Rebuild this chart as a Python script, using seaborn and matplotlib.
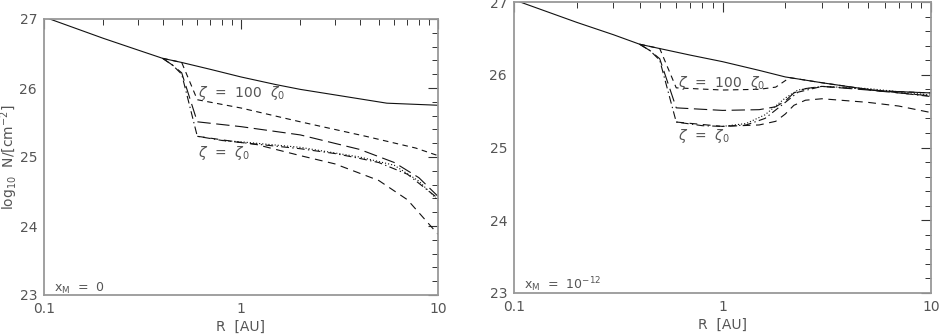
import numpy as np
import pandas as pd
import matplotlib
matplotlib.use("Agg")
import matplotlib.pyplot as plt
import seaborn as sns
from matplotlib.ticker import FixedLocator, MultipleLocator, NullFormatter

sns.set_style("white")
plt.rcParams['font.family'] = ['DejaVu Sans']
plt.rcParams['mathtext.fontset'] = 'dejavusans'

# ---------------- data (R in AU, log10 N in cm^-2) ----------------
R_solid = [0.1, 0.2, 0.3, 0.4, 0.5, 0.7, 1.0, 1.5, 2.0, 3.0, 5.5, 10.0]
N_solid_left = [27.03, 26.72, 26.55, 26.43, 26.37, 26.27, 26.16, 26.05, 25.98, 25.90, 25.78, 25.75]
N_solid_right = [27.03, 26.72, 26.55, 26.42, 26.36, 26.27, 26.18, 26.06, 25.97, 25.89, 25.78, 25.75]

# left panel (x_M = 0)
R_z100_L = [0.4, 0.5, 0.6, 1.0, 2.0, 4.3, 7.7, 10.0]
N_z100_L = [26.43, 26.37, 25.83, 25.71, 25.51, 25.30, 25.13, 25.02]

R_long_L = [0.4, 0.45, 0.5, 0.6, 1.0, 2.0, 4.0, 6.0, 8.0, 10.0]
N_long_L = [26.43, 26.33, 26.22, 25.51, 25.44, 25.32, 25.11, 24.92, 24.70, 24.43]

R_dd_L = [0.4, 0.45, 0.5, 0.6, 0.8, 1.0, 2.0, 3.0, 4.0, 5.0, 7.0, 10.0]
N_dd_L = [26.43, 26.33, 26.20, 25.30, 25.24, 25.21, 25.12, 25.05, 24.98, 24.92, 24.75, 24.40]

R_dot_L = [0.8, 1.0, 2.0, 4.0, 6.0, 8.0, 10.0]
N_dot_L = [25.24, 25.22, 25.14, 25.00, 24.88, 24.65, 24.37]

R_low_L = [0.6, 1.0, 1.2, 2.0, 3.0, 5.0, 7.0, 10.0]
N_low_L = [25.30, 25.21, 25.18, 25.02, 24.90, 24.66, 24.38, 23.88]

# right panel (x_M = 1e-12)
R_z100_R = [0.4, 0.5, 0.6, 1.0, 1.5, 1.8, 2.1, 3.0, 5.5, 10.0]
N_z100_R = [26.42, 26.36, 25.82, 25.79, 25.80, 25.83, 25.96, 25.89, 25.78, 25.75]

R_long_R = [0.4, 0.45, 0.5, 0.6, 1.0, 1.5, 1.8, 2.0, 2.2, 2.5, 3.0, 5.0, 7.0, 10.0]
N_long_R = [26.42, 26.33, 26.22, 25.545, 25.51, 25.52, 25.56, 25.64, 25.75, 25.81, 25.84, 25.79, 25.75, 25.71]

R_dd_R = [0.4, 0.45, 0.5, 0.6, 0.8, 1.0, 1.3, 1.6, 2.0, 2.3, 3.0, 5.0, 10.0]
N_dd_R = [26.42, 26.33, 26.20, 25.35, 25.30, 25.29, 25.31, 25.40, 25.62, 25.76, 25.84, 25.80, 25.70]

R_dot_R = [1.0, 1.3, 1.6, 2.0, 2.3, 3.0, 5.0, 10.0]
N_dot_R = [25.29, 25.33, 25.45, 25.68, 25.79, 25.84, 25.81, 25.72]

R_low_R = [0.6, 1.0, 1.5, 1.8, 2.0, 2.2, 2.5, 3.0, 5.0, 7.0, 10.0]
N_low_R = [25.35, 25.29, 25.31, 25.36, 25.46, 25.58, 25.65, 25.67, 25.62, 25.57, 25.48]

x_ticks = [0.1, 1, 10]
x_ticklabels = ["0.1", "1", "10"]
y_ticks = [23, 24, 25, 26, 27]

styles = {
    "solid": "-",
    "z100": (0, (5, 4)),
    "long": (0, (12, 5)),
    "dd": (0, (7, 3, 1.2, 3)),
    "dot": (0, (1, 1.8)),
    "low": (0, (7, 5)),
}

TXT = "#555555"
LINE = "#111111"
FRAME = "#999999"

fig = plt.figure(figsize=(9.39, 3.35), dpi=100)
axL = fig.add_axes([44 / 939, 40 / 335, 394 / 939, 276 / 335])
axR = fig.add_axes([514 / 939, 42 / 335, 417 / 939, 291 / 335])

def draw(ax, curves):
    for key, R, N in curves:
        df = pd.DataFrame({"R": R, "N": N})
        sns.lineplot(data=df, x="R", y="N", ax=ax, color=LINE, lw=0.8,
                     linestyle=styles[key], estimator=None, sort=False)

draw(axL, [("solid", R_solid, N_solid_left), ("z100", R_z100_L, N_z100_L),
           ("long", R_long_L, N_long_L), ("dd", R_dd_L, N_dd_L),
           ("dot", R_dot_L, N_dot_L), ("low", R_low_L, N_low_L)])
draw(axR, [("solid", R_solid, N_solid_right), ("z100", R_z100_R, N_z100_R),
           ("long", R_long_R, N_long_R), ("dd", R_dd_R, N_dd_R),
           ("dot", R_dot_R, N_dot_R), ("low", R_low_R, N_low_R)])

for ax in (axL, axR):
    ax.set_xscale("log")
    ax.set_xlim(0.1, 10)
    ax.set_ylim(23, 27)
    ax.xaxis.set_major_locator(FixedLocator(x_ticks))
    ax.set_xticklabels(x_ticklabels)
    ax.xaxis.set_minor_locator(FixedLocator(
        [m * d for d in (0.1, 1) for m in range(2, 10)]))
    ax.xaxis.set_minor_formatter(NullFormatter())
    ax.yaxis.set_major_locator(FixedLocator(y_ticks))
    ax.yaxis.set_minor_locator(MultipleLocator(0.2))
    ax.tick_params(which="both", direction="in", top=True, right=True,
                   colors="#333333", labelcolor=TXT, labelsize=10)
    ax.tick_params(which="major", length=7, width=0.8, pad=5)
    ax.tick_params(which="minor", length=4, width=0.7)
    for s in ax.spines.values():
        s.set_color(FRAME)
        s.set_linewidth(1.3)
    ax.set_xlabel("R  [AU]", color=TXT, fontsize=10, labelpad=3)
    ax.set_ylabel("")
    ax.grid(False)

axL.set_ylabel(r"log$_{10}$  N/[cm$^{-2}$]", color=TXT, fontsize=10)
axL.yaxis.set_label_coords(-0.062, 0.5)

# annotations
axL.text(0.605, 25.87, r"$\zeta$  =  100  $\zeta_0$", color=TXT, fontsize=10)
axL.text(0.605, 25.0, r"$\zeta$  =  $\zeta_0$", color=TXT, fontsize=10)
axL.text(0.112, 23.05, r"x$_{\rm M}$  =  0", color=TXT, fontsize=9)

axR.text(0.61, 25.83, r"$\zeta$  =  100  $\zeta_0$", color=TXT, fontsize=10)
axR.text(0.61, 25.1, r"$\zeta$  =  $\zeta_0$", color=TXT, fontsize=10)
axR.text(0.112, 23.05, r"x$_{\rm M}$  =  10$^{-12}$", color=TXT, fontsize=9)

fig.savefig("out.png", dpi=100)
